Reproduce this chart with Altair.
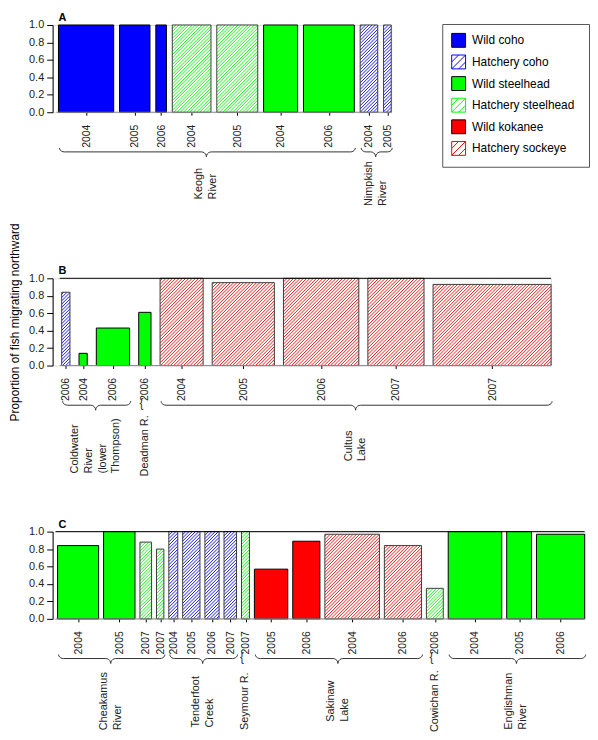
import json
import math
import numpy as np
import pandas as pd
import altair as alt

FONT = "Liberation Sans"

# ---------------- data ----------------
categories = ["Wild coho", "Hatchery coho", "Wild steelhead",
              "Hatchery steelhead", "Wild kokanee", "Hatchery sockeye"]
cat_colors = ["#0000FF", "#0000FF", "#00FF00", "#00FF00", "#FF0000", "#FF0000"]
cat_hatched = [False, True, False, True, False, True]

# Panel A
a_years = ["2004", "2005", "2006", "2004", "2005", "2004", "2006", "2004", "2005"]
a_types = ["Wild coho", "Wild coho", "Wild coho", "Hatchery steelhead", "Hatchery steelhead",
           "Wild steelhead", "Wild steelhead", "Hatchery coho", "Hatchery coho"]
a_values = [1.0, 1.0, 1.0, 1.0, 1.0, 1.0, 1.0, 1.0, 1.0]
a_widths = [55.7, 30.7, 10.7, 39.0, 41.3, 34.3, 51.3, 17.7, 7.7]
a_groups = ["Keogh\nRiver"] * 7 + ["Nimpkish\nRiver"] * 2

# Panel B
b_years = ["2006", "2004", "2006", "2006", "2004", "2005", "2006", "2007", "2007"]
b_types = ["Hatchery coho", "Wild steelhead", "Wild steelhead", "Wild steelhead",
           "Hatchery sockeye", "Hatchery sockeye", "Hatchery sockeye", "Hatchery sockeye",
           "Hatchery sockeye"]
b_values = [0.84, 0.14, 0.43, 0.61, 1.0, 0.95, 1.0, 1.0, 0.93]
b_widths = [8.3, 8.3, 33.6, 12.4, 43.4, 62.7, 76.0, 56.6, 119.0]
b_groups = (["Coldwater\nRiver\n(lower\nThompson)"] * 3 + ["Deadman R."]
            + ["Cultus\nLake"] * 5)

# Panel C
c_years = ["2004", "2005", "2007", "2007", "2004", "2005", "2006", "2007", "2007",
           "2005", "2006", "2004", "2006", "2006", "2004", "2005", "2006"]
c_types = ["Wild steelhead", "Wild steelhead", "Hatchery steelhead", "Hatchery steelhead",
           "Hatchery coho", "Hatchery coho", "Hatchery coho", "Hatchery coho",
           "Hatchery steelhead", "Wild kokanee", "Wild kokanee", "Hatchery sockeye",
           "Hatchery sockeye", "Hatchery steelhead", "Wild steelhead", "Wild steelhead",
           "Wild steelhead"]
c_values = [0.84, 1.0, 0.88, 0.80, 1.0, 1.0, 1.0, 1.0, 1.0, 0.57, 0.89, 0.97, 0.84,
            0.35, 1.0, 1.0, 0.97]
c_widths = [41.4, 31.7, 11.7, 7.4, 9.0, 17.4, 14.3, 12.6, 8.0, 33.7, 27.4, 55.0, 37.4,
            17.0, 54.0, 25.0, 48.6]
c_groups = (["Cheakamus\nRiver"] * 4 + ["Tenderfoot\nCreek"] * 4 + ["Seymour R."]
            + ["Sakinaw\nLake"] * 4 + ["Cowichan R."] + ["Englishman\nRiver"] * 3)

Y_TITLE = "Proportion of fish migrating northward"

# ---------------- helpers (layout only) ----------------
CW = {'a': .556, 'b': .556, 'c': .5, 'd': .556, 'e': .556, 'f': .278, 'g': .556, 'h': .556,
      'i': .222, 'k': .5, 'l': .222, 'm': .833, 'n': .556, 'o': .556, 'p': .556, 'r': .333,
      's': .5, 't': .278, 'u': .556, 'v': .5, 'w': .722, 'y': .5, 'C': .722, 'D': .722,
      'E': .667, 'K': .667, 'L': .556, 'N': .722, 'R': .722, 'S': .667, 'T': .611, ' ': .278,
      '.': .278, '(': .333, ')': .333}


def text_len(s, size):
    return sum(CW.get(ch, .556) for ch in s) * size


HATCH_PATH = "M-1,-1H1V1H-1ZM-1,0L0,-1M-1,1L1,-1M0,1L1,0"
LINE_H = 14


def build_panel(letter, years, types, values, widths, groups, gap, H, label_depth,
                top_line=False, y_title=None, legend=False):
    color_of = dict(zip(categories, cat_colors))
    hatch_of = dict(zip(categories, cat_hatched))
    lefts, pos = [], gap
    for w in widths:
        lefts.append(pos)
        pos += w + gap
    rights = [l + w for l, w in zip(lefts, widths)]
    total = rights[-1]
    centers = [round((l + r) / 2, 3) for l, r in zip(lefts, rights)]

    bars = pd.DataFrame({
        "x0": lefts, "x1": rights, "xc": centers, "v": values, "year": years, "type": types,
        "fill": ["white" if hatch_of[t] else color_of[t] for t in types],
        "edge": ["#3a3a3a" if hatch_of[t] else "#000000" for t in types],
    })
    bars["y0"] = 0.0

    xscale = alt.Scale(domain=[0, total], nice=False, zero=False)
    yscale = alt.Scale(domain=[0, 1], nice=False, zero=True)
    label_expr = f"{json.dumps(years)}[indexof({json.dumps(centers)}, datum.value)]"
    xaxis = alt.Axis(values=centers, labelExpr=label_expr, labelAngle=270,
                     labelAlign="right", labelBaseline="middle", labelPadding=9,
                     labelFontSize=10.5, labelColor="#222222", labelFont=FONT,
                     labelOverlap=False, labelFlush=False, domain=False, tickSize=3,
                     tickColor="black", tickWidth=1, grid=False, title=None)
    yaxis_kw = dict(values=[0, 0.2, 0.4, 0.6, 0.8, 1.0], format=".1f", tickSize=6,
                    tickColor="black", domainColor="black", labelFontSize=11,
                    labelColor="#222222", labelFont=FONT, labelPadding=3, grid=False)
    if y_title:
        yaxis = alt.Axis(title=y_title, titleFontSize=12, titleFontWeight="normal",
                         titleColor="black", titleFont=FONT, titlePadding=7, **yaxis_kw)
    else:
        yaxis = alt.Axis(title=None, **yaxis_kw)

    def X(f):
        return alt.X(f, type="quantitative", scale=xscale, axis=xaxis)

    def Y(f):
        return alt.Y(f, type="quantitative", scale=yscale, axis=yaxis)

    layers = []
    layers.append(alt.Chart(bars).mark_rect(strokeWidth=0).encode(
        x=X("x0"), x2="x1", y=Y("y0"), y2="v", fill=alt.Fill("fill:N", scale=None)))

    # hatching
    sp = 3.3
    hrows = []
    for l, r, v, t in zip(lefts, rights, values, types):
        if not hatch_of[t]:
            continue
        hp = v * H
        kmin = math.floor((l - hp) / sp)
        kmax = math.ceil(r / sp)
        for k in range(kmin, kmax + 1):
            c = k * sp
            lx = max(l, c)
            ux = min(r, c + hp)
            if ux - lx > 0.3:
                hrows.append({"hx": lx, "hy": (lx - c) / H, "hx2": ux, "hy2": (ux - c) / H,
                              "col": color_of[t]})
    if hrows:
        hdf = pd.DataFrame(hrows)
        layers.append(alt.Chart(hdf).mark_rule(strokeWidth=0.9).encode(
            x=X("hx"), y=Y("hy"), x2="hx2", y2="hy2", stroke=alt.Stroke("col:N", scale=None)))

    # outlines
    layers.append(alt.Chart(bars).mark_rect(fill="transparent", strokeWidth=1).encode(
        x=X("x0"), x2="x1", y=Y("y0"), y2="v", stroke=alt.Stroke("edge:N", scale=None)))

    # baseline and top reference line
    line_df = pd.DataFrame({"x0": [lefts[0] - 2], "x1": [total], "y": [0.0], "yt": [1.0]})
    layers.append(alt.Chart(line_df).mark_rule(color="#8a8a8a", strokeWidth=1).encode(
        x=X("x0"), x2="x1", y=Y("y")))
    if top_line:
        layers.append(alt.Chart(line_df).mark_rule(color="black", strokeWidth=1).encode(
            x=X("x0"), x2="x1", y=Y("yt")))

    # panel letter
    let_df = pd.DataFrame({"lx": [0.0], "ly": [1.0], "t": [letter]})
    layers.append(alt.Chart(let_df).mark_text(
        align="left", baseline="alphabetic", fontSize=11, fontWeight="bold", font=FONT,
        color="black", xOffset=6, yOffset=-4).encode(x=X("lx"), y=Y("ly"), text="t:N"))

    # groups
    ginfo = []
    for i, g in enumerate(groups):
        if ginfo and ginfo[-1]["g"] == g and ginfo[-1]["last"] == i - 1:
            ginfo[-1]["r"] = rights[i]
            ginfo[-1]["last"] = i
            ginfo[-1]["n"] += 1
        else:
            ginfo.append({"g": g, "l": lefts[i], "r": rights[i], "last": i, "n": 1})

    lab_rows, brace_rows, single_rows = [], [], []
    for gid, gi in enumerate(ginfo):
        xm = (gi["l"] + gi["r"]) / 2
        lines = gi["g"].split("\n")
        L = max(text_len(s, 11) for s in lines)
        nl = len(lines)
        for j, s in enumerate(lines):
            lab_rows.append({"gx": xm + (j - (nl - 1) / 2) * LINE_H,
                             "gy": -(label_depth + L / 2) / H, "lab": s})
        if gi["n"] == 1:
            single_rows.append({"sx": xm, "sy": 0.0})
            continue
        xl, xr = gi["l"] + 1, gi["r"] + 1
        r = min(5.0, (xr - xl) / 4)
        pts = []
        for t in np.linspace(0, math.pi / 2, 6):
            pts.append((xl + r - r * math.cos(t), 36 + 4 * math.sin(t)))
        for t in np.linspace(0, math.pi / 2, 6):
            pts.append((xm - r + r * math.sin(t), 45 - 5 * math.cos(t)))
        for t in np.linspace(0, math.pi / 2, 6):
            pts.append((xm + r - r * math.cos(t), 45 - 5 * math.sin(t)))
        for t in np.linspace(0, math.pi / 2, 6):
            pts.append((xr - r + r * math.sin(t), 36 + 4 * math.cos(t)))
        for j, (px, d) in enumerate(pts):
            brace_rows.append({"gid": gid, "i": j, "bx": px, "by": -d / H})

    ldf = pd.DataFrame(lab_rows)
    layers.append(alt.Chart(ldf).mark_text(
        angle=270, align="left", baseline="middle", fontSize=11, font=FONT,
        color="#222222").encode(x=X("gx"), y=Y("gy"), text="lab:N"))
    if brace_rows:
        bdf = pd.DataFrame(brace_rows)
        layers.append(alt.Chart(bdf).mark_line(color="#333333", strokeWidth=1).encode(
            x=X("bx"), y=Y("by"), detail="gid:N", order="i:Q"))
    if single_rows:
        sdf = pd.DataFrame(single_rows)
        layers.append(alt.Chart(sdf).mark_text(
            text="{", fontSize=12, font=FONT, color="#333333", align="center",
            baseline="middle", xOffset=-3.5, yOffset=38).encode(x=X("sx"), y=Y("sy")))

    if legend:
        leg_df = pd.DataFrame({"cat": categories})
        leg = alt.Legend(title="\u00a0", titleOrient="right", titlePadding=6,
                         titleFontSize=12, orient="none", legendX=393, legendY=-1,
                         symbolSize=196, symbolStrokeWidth=1, labelFontSize=12,
                         labelFont=FONT, labelColor="black", labelOffset=6,
                         rowPadding=2.8, padding=9, strokeColor="#555555",
                         fillColor="white", symbolOpacity=1)
        fills = ["white" if h else c for c, h in zip(cat_colors, cat_hatched)]
        strokes = [c if h else "black" for c, h in zip(cat_colors, cat_hatched)]
        shapes = [HATCH_PATH if h else "square" for h in cat_hatched]
        layers.append(alt.Chart(leg_df).mark_point(filled=True, opacity=0, size=0).encode(
            fill=alt.Fill("cat:N", scale=alt.Scale(domain=categories, range=fills), legend=leg),
            stroke=alt.Stroke("cat:N", scale=alt.Scale(domain=categories, range=strokes), legend=leg),
            shape=alt.Shape("cat:N", scale=alt.Scale(domain=categories, range=shapes), legend=leg),
        ))

    return alt.layer(*layers).properties(width=total, height=H)


H = 88
panel_a = build_panel("A", a_years, a_types, a_values, a_widths, a_groups, 5.9, H, 72,
                      legend=True)
panel_b = build_panel("B", b_years, b_types, b_values, b_widths, b_groups, 9.16, H, 81,
                      top_line=True, y_title=Y_TITLE)
panel_c = build_panel("C", c_years, c_types, c_values, c_widths, c_groups, 5.0, H, 83,
                      top_line=True)

chart = alt.vconcat(panel_a, panel_b, panel_c, spacing=167.5, bounds="flush").properties(
    padding={"left": 0, "top": 0, "right": 0, "bottom": 0}, background="white"
).configure_view(stroke=None).configure(font=FONT, padding=0)

chart.save("out.html", embed_options={"renderer": "svg", "actions": False})
